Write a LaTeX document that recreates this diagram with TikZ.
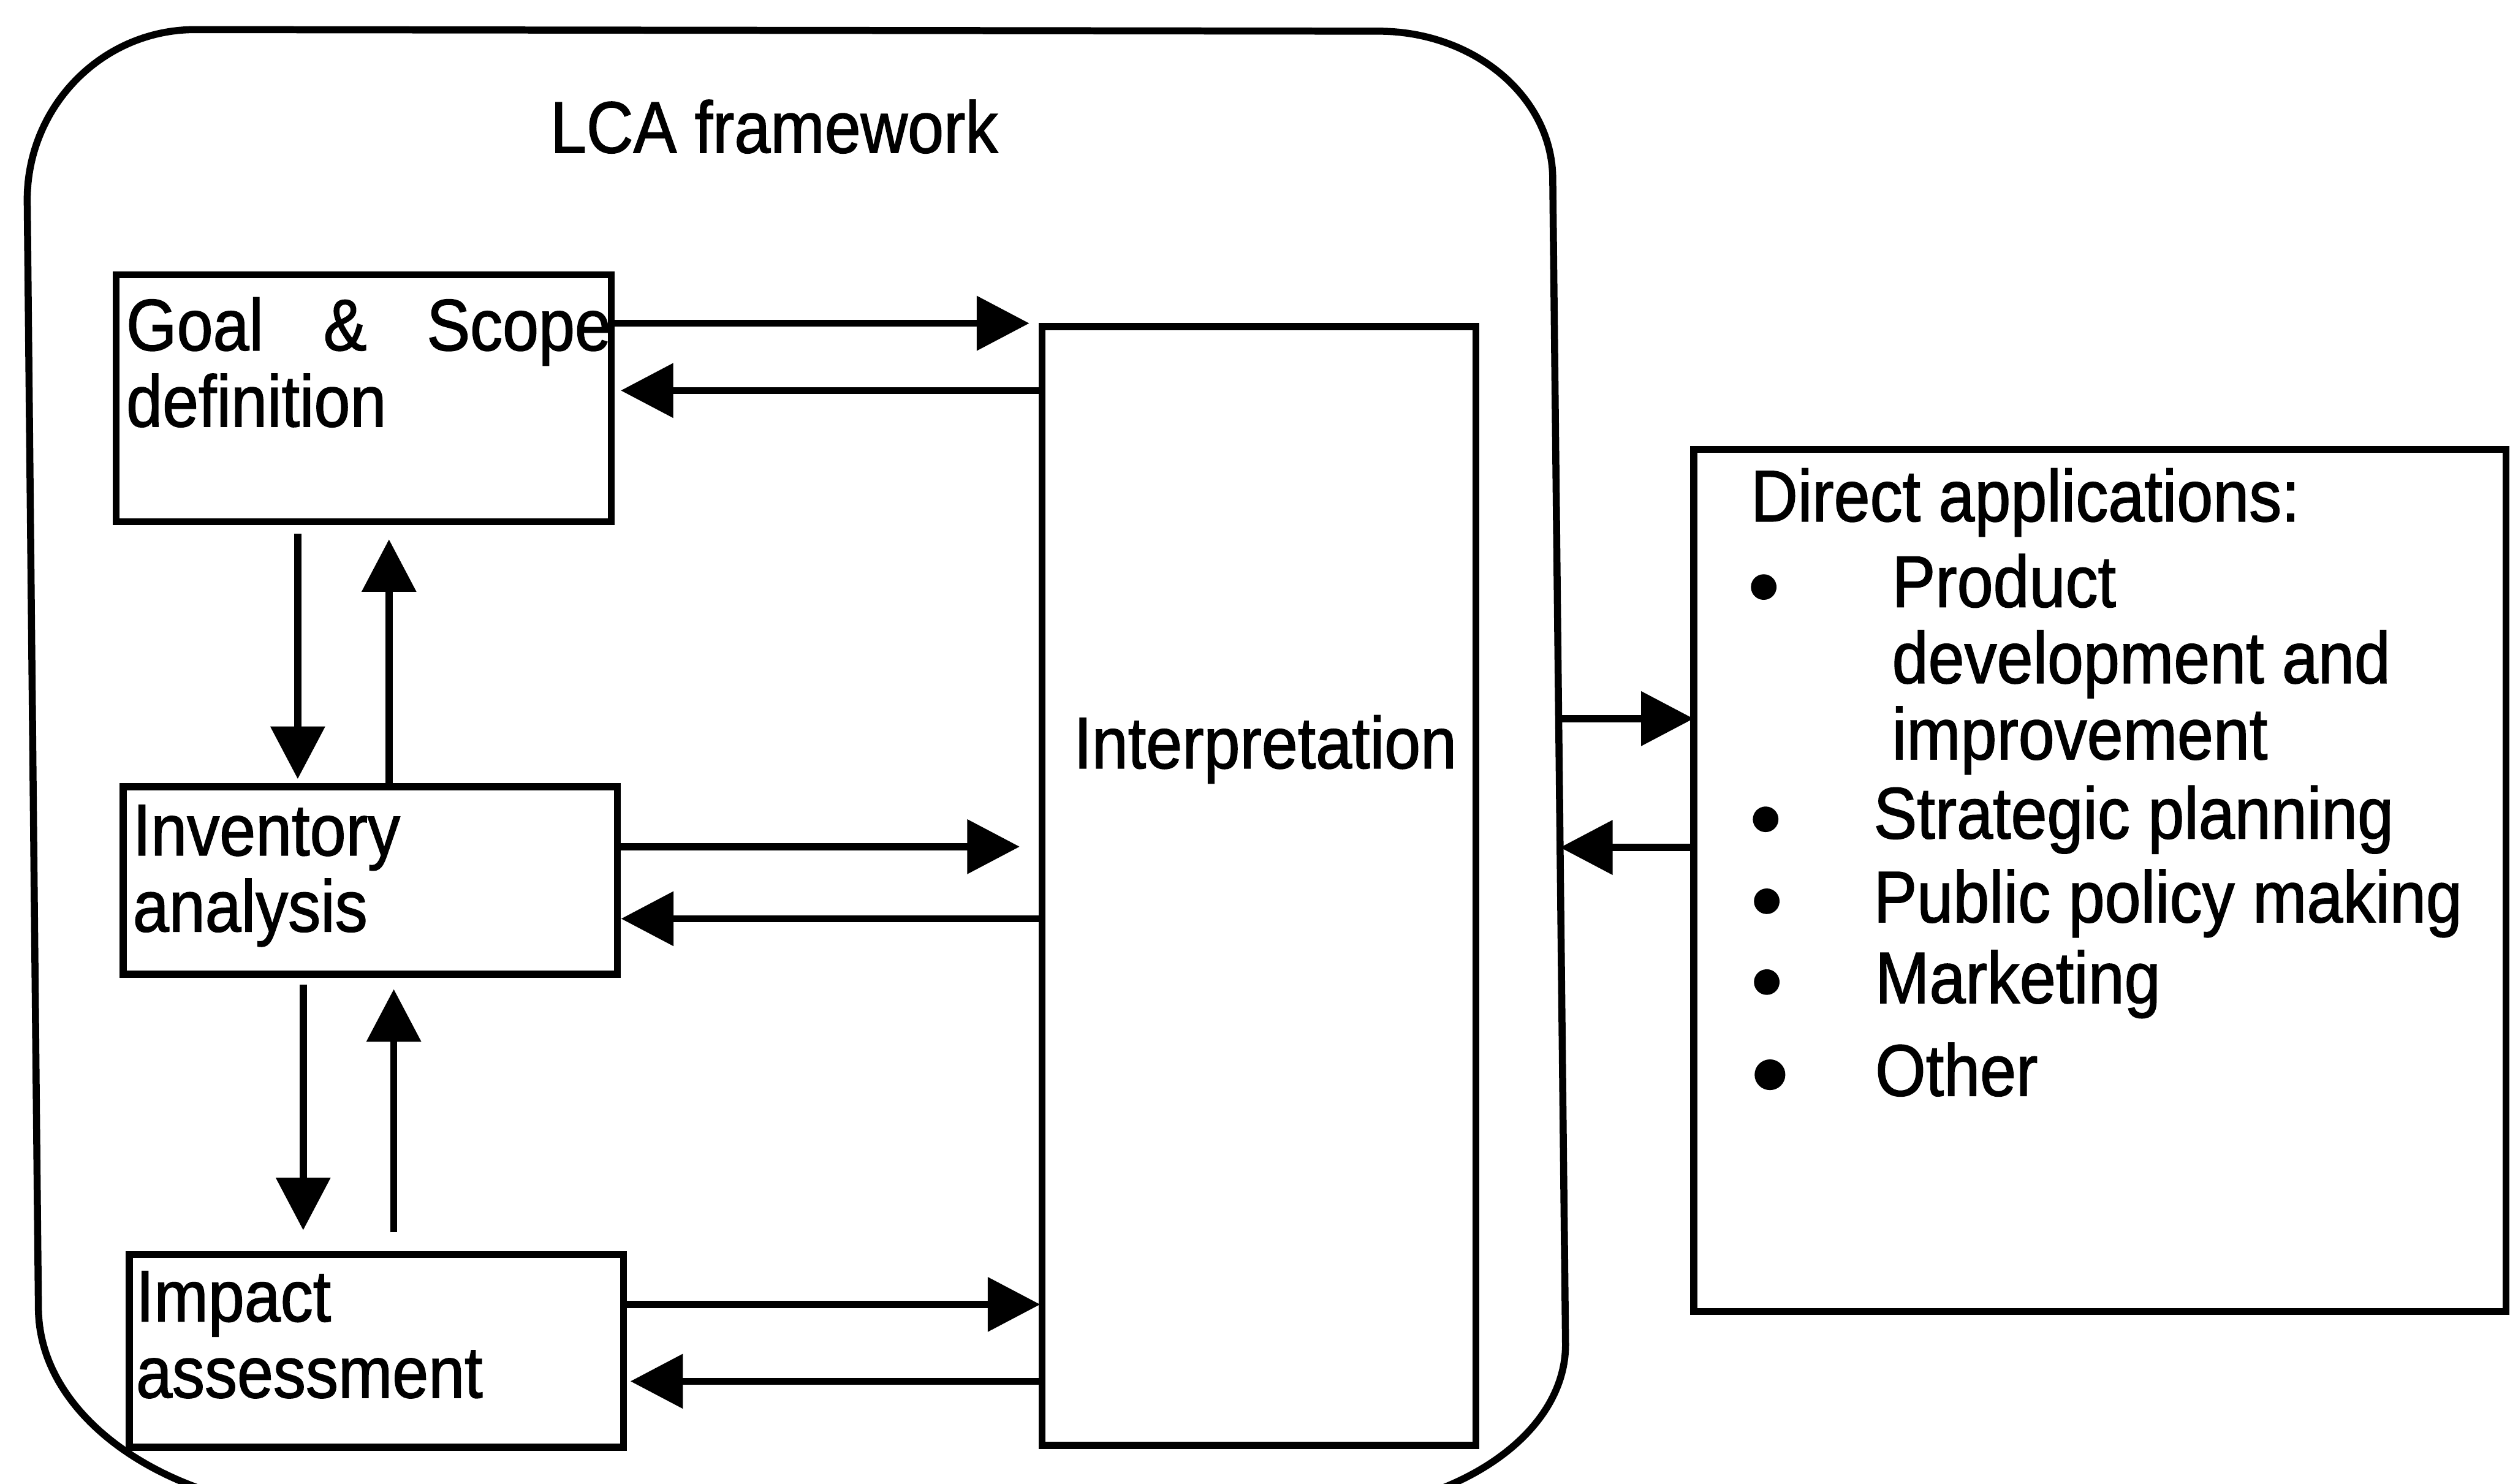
\documentclass[tikz,border=0pt]{standalone}
\usepackage{fontspec}
\setmainfont{Liberation Sans}[FakeStretch=0.89, FakeBold=1.3]
\usetikzlibrary{arrows.meta,calc}

\tikzset{
  box/.style={draw, line width=1.1pt, inner sep=0pt, outer sep=0pt, anchor=north west},
  txt/.style={inner sep=0pt, outer sep=0pt, anchor=base west,
              font=\fontsize{11.4}{11.9}\selectfont},
  arr/.style={line width=1.1pt, -{Triangle[length=8.2pt,width=8.3pt]}},
  frame/.style={line width=1.1pt},
  dot/.style={fill=black},
}

\newcommand{\lines}[1]{\begin{tabular}[t]{@{}l@{}}#1\end{tabular}}

\begin{document}
\begin{tikzpicture}[x=0.25pt, y=-0.25pt]
  \useasboundingbox (0,0) rectangle (1568,927);
  \clip (0,0) rectangle (1568,927);

  % LCA framework frame (rounded, runs past the lower edge)
  \draw[frame] (500,19) -- (861,19.5)
    .. controls (921.2,19.5) and (970,60.9) .. (970,112)
    -- (978,840)
    .. controls (978,898) and (906.3,945) .. (818,945)
    -- (214,945)
    .. controls (109.1,945) and (24,887.7) .. (24,817)
    -- (17,125)
    .. controls (17,66.2) and (64,18.5) .. (122,18.5)
    -- cycle;
  \coordinate (lcaE1) at (973.7,449);
  \coordinate (lcaE2) at (974.6,529.5);

  \node[txt] (title) at (343.8,95.4) {LCA framework};

  % phase boxes
  \node[box, minimum width=77.3pt,  minimum height=38.55pt]  (goal)   at (72.6,171.8) {};
  \node[box, minimum width=77.15pt, minimum height=29.28pt]  (inv)    at (77,491.5)   {};
  \node[box, minimum width=77.18pt, minimum height=30.1pt]   (imp)    at (80.7,783.8) {};
  \node[box, minimum width=67.75pt, minimum height=174.75pt] (interp) at (651,204)    {};
  \node[box, minimum width=126.9pt, minimum height=134.65pt] (direct) at (1058,280.8) {};

  % box texts
  \node[txt] (goalT) at (78.9,218.9) {\lines{\hbox to 75.7pt{Goal\hfill\&\hfill Scope}\\definition}};
  \node[txt] (invT)  at (83,534.4)   {\lines{Inventory\\analysis}};
  \node[txt] (impT)  at (85,825.6)   {\lines{Impact\\assessment}};
  \node[txt, anchor=base] (interpT) at (790.4,480) {Interpretation};

  \node[txt] (dhead) at (1093.8,325.7) {Direct applications:};
  \node[txt] (d1) at (1182,379.2)   {\lines{Product\\development and\\improvement}};
  \node[txt] (d2) at (1170.5,523.9) {Strategic planning};
  \node[txt] (d3) at (1170.5,576.2) {Public policy making};
  \node[txt] (d4) at (1171.5,626.7) {Marketing};
  \node[txt] (d5) at (1171.5,684.6) {Other};

  \fill[dot] (1101.8,366.8) circle[radius=8];
  \fill[dot] (1103,511.9)   circle[radius=8];
  \fill[dot] (1103.7,563.1) circle[radius=8];
  \fill[dot] (1103.7,613.6) circle[radius=8];
  \fill[dot] (1105.7,671.5) circle[radius=9.6];

  % phases <-> interpretation
  \draw[arr, shorten >=2pt]   ($(goal.north east)+(0,30.2)$) coordinate (a1) -- (a1 -| interp.west);
  \draw[arr, shorten >=1.5pt] ($(interp.north west)+(0,40)$) coordinate (a2) -- (a2 -| goal.east);
  \draw[arr, shorten >=3.5pt] ($(inv.north east)+(0,37.5)$) coordinate (a3) -- (a3 -| interp.west);
  \draw[arr, shorten >=0.6pt] ($(interp.north west)+(0,370)$) coordinate (a4) -- (a4 -| inv.east);
  \draw[arr, shorten >=0.3pt] ($(imp.north east)+(0,31.2)$) coordinate (a5) -- (a5 -| interp.west);
  \draw[arr, shorten >=1.1pt] ($(interp.north west)+(0,659)$) coordinate (a6) -- (a6 -| imp.east);

  % phase <-> phase
  \draw[arr, shorten <=1.9pt, shorten >=1.2pt]  ($(goal.south west)+(113.4,0)$) coordinate (v1) -- (v1 |- inv.north);
  \draw[arr, shorten <=0.6pt, shorten >=2.75pt] ($(inv.north west)+(166,0)$) coordinate (v2) -- (v2 |- goal.south);
  \draw[arr, shorten <=1.6pt, shorten >=3.8pt]  ($(inv.south west)+(112.4,0)$) coordinate (v3) -- (v3 |- imp.north);
  \draw[arr, shorten <=3.45pt, shorten >=2.35pt] ($(imp.north west)+(165.3,0)$) coordinate (v4) -- (v4 |- inv.south);

  % framework <-> direct applications
  \draw[arr] (lcaE1) -- (lcaE1 -| direct.west);
  \draw[arr] ($(direct.north west)+(0,248.7)$) coordinate (a7) -- (a7 -| lcaE2);
\end{tikzpicture}
\end{document}
